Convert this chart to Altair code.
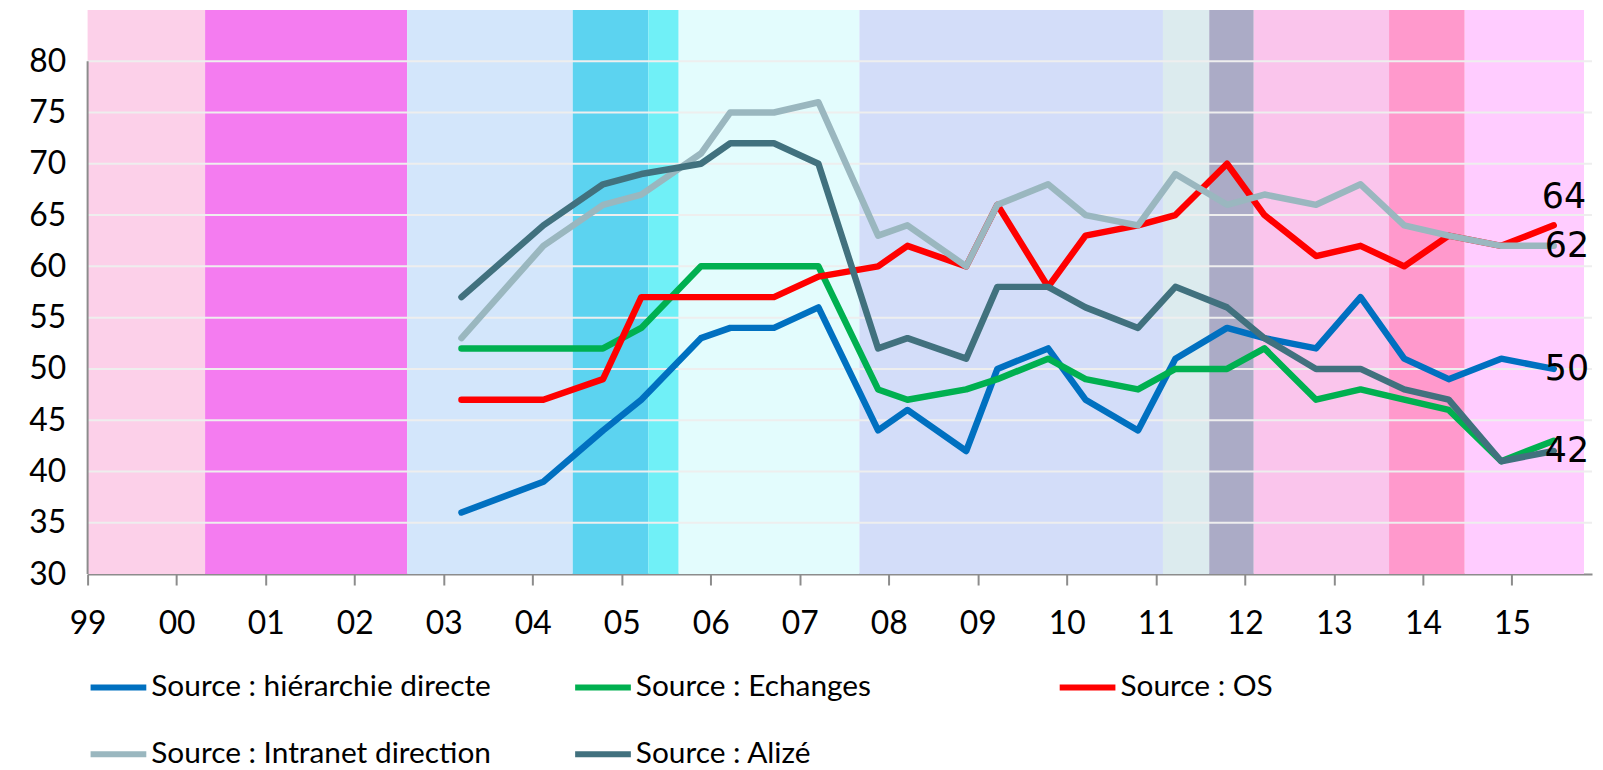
import altair as alt
import pandas as pd

# ---- data ----
SERIES = [
    "Source : hiérarchie directe",
    "Source : Echanges",
    "Source : OS",
    "Source : Intranet direction",
    "Source : Alizé",
]
COLORS = ["#0070C0", "#00B050", "#FF0000", "#9AB7BF", "#41717E"]

SURVEY_DATES = [2003.20, 2004.12, 2004.79, 2005.22, 2005.89, 2006.22, 2006.71,
                2007.21, 2007.88, 2008.21, 2008.87, 2009.22, 2009.79, 2010.21,
                2010.80, 2011.22, 2011.80, 2012.22, 2012.80, 2013.30, 2013.79,
                2014.29, 2014.88, 2015.47]

HIERARCHIE = [36, 39, 44, 47, 53, 54, 54, 56, 44, 46, 42, 50, 52, 47, 44, 51, 54, 53, 52, 57, 51, 49, 51, 50]
ECHANGES   = [52, 52, 52, 54, 60, 60, 60, 60, 48, 47, 48, 49, 51, 49, 48, 50, 50, 52, 47, 48, 47, 46, 41, 43]
OS         = [47, 47, 49, 57, 57, 57, 57, 59, 60, 62, 60, 66, 58, 63, 64, 65, 70, 65, 61, 62, 60, 63, 62, 64]
INTRANET   = [53, 62, 66, 67, 71, 75, 75, 76, 63, 64, 60, 66, 68, 65, 64, 69, 66, 67, 66, 68, 64, 63, 62, 62]
ALIZE      = [57, 64, 68, 69, 70, 72, 72, 70, 52, 53, 51, 58, 58, 56, 54, 58, 56, 53, 50, 50, 48, 47, 41, 42]

TICK_YEARS = list(range(1999, 2016))
TICK_LABELS = ["99", "00", "01", "02", "03", "04", "05", "06", "07", "08",
               "09", "10", "11", "12", "13", "14", "15"]
Y_TICKS = [30, 35, 40, 45, 50, 55, 60, 65, 70, 75, 80]

# background periods
BAND_START = [1999.00, 2000.32, 2002.59, 2004.45, 2005.30, 2005.64, 2007.67,
              2011.08, 2011.60, 2012.10, 2013.62, 2014.47]
BAND_END   = [2000.32, 2002.59, 2004.45, 2005.30, 2005.64, 2007.67, 2011.08,
              2011.60, 2012.10, 2013.62, 2014.47, 2015.81]
BAND_COLOR = ["#FCD0E9", "#F47CF0", "#D3E6FB", "#5CD3F0", "#70F0F7", "#E3FCFD",
              "#D3DDF9", "#DCEBEE", "#ABABC6", "#FAC5EC", "#FF99CC", "#FFCCFF"]

X_DOMAIN = [1999, 2015.9]
Y_DOMAIN = [30, 85]

# ---- tables ----
rows = []
for name, vals in zip(SERIES, [HIERARCHIE, ECHANGES, OS, INTRANET, ALIZE]):
    for d, v in zip(SURVEY_DATES, vals):
        rows.append({"serie": name, "date": d, "valeur": v})
df = pd.DataFrame(rows)

bands = pd.DataFrame({"debut": BAND_START, "fin": BAND_END, "couleur": BAND_COLOR})
grid = pd.DataFrame({"v": Y_TICKS[1:]})
axis_df = pd.DataFrame({"x": [X_DOMAIN[0]], "y1": [Y_TICKS[0]], "y2": [Y_TICKS[-1]]})

xscale = alt.Scale(domain=X_DOMAIN, nice=False, zero=False)
yscale = alt.Scale(domain=Y_DOMAIN, nice=False, zero=False)

label_expr = "[" + ",".join("'%s'" % t for t in TICK_LABELS) + "][datum.value - %d]" % TICK_YEARS[0]

XAXIS = alt.Axis(title=None, values=TICK_YEARS, labelExpr=label_expr,
                 grid=False, tickSize=11, tickWidth=2, tickColor="#8C8C8C",
                 domainColor="#8C8C8C", domainWidth=2,
                 labelFont="Lato", labelFontSize=32, labelColor="black",
                 labelPadding=24, labelFlush=False, labelOverlap=False)
YAXIS = alt.Axis(title=None, values=Y_TICKS, grid=False, ticks=False,
                 domain=False, labelFont="Lato", labelFontSize=32,
                 labelColor="black", labelPadding=22, labelOverlap=False,
                 labelFlush=False)

band_layer = alt.Chart(bands).transform_calculate(
    haut=str(Y_DOMAIN[1]), bas=str(Y_DOMAIN[0])
).mark_rect().encode(
    x=alt.X("debut:Q", scale=xscale, axis=XAXIS),
    x2="fin:Q",
    y=alt.Y("haut:Q", scale=yscale, axis=YAXIS),
    y2="bas:Q",
    fill=alt.Fill("couleur:N", scale=None, legend=None),
)

grid_layer = alt.Chart(grid).mark_rule(color="#EEEEEE", strokeWidth=2).encode(
    y=alt.Y("v:Q", scale=yscale, axis=YAXIS)
)

yaxis_line = alt.Chart(axis_df).mark_rule(color="#8C8C8C", strokeWidth=2).encode(
    x=alt.X("x:Q", scale=xscale, axis=XAXIS),
    y=alt.Y("y1:Q", scale=yscale, axis=YAXIS),
    y2="y2:Q",
)

lines = alt.Chart(df).mark_line(strokeWidth=6.5, strokeCap="round", strokeJoin="round").encode(
    x=alt.X("date:Q", scale=xscale, axis=XAXIS),
    y=alt.Y("valeur:Q", scale=yscale, axis=YAXIS),
    color=alt.Color("serie:N", scale=alt.Scale(domain=SERIES, range=COLORS),
                    legend=alt.Legend(title=None, orient="none", legendX=0, legendY=650,
                                      direction="horizontal", columns=3, gridAlign="all",
                                      columnPadding=72, rowPadding=21,
                                      symbolType="stroke", symbolSize=3136,
                                      symbolStrokeWidth=6, labelFont="Lato",
                                      labelFontSize=30, labelColor="black",
                                      labelOffset=2, labelLimit=0, padding=0)),
)

end_pts = alt.Chart(df).transform_filter(alt.datum.date == SURVEY_DATES[-1])

label_up = end_pts.transform_filter(alt.datum.serie == SERIES[2]).mark_text(
    align="left", baseline="middle", dx=-12, dy=-28, font="DejaVu Sans", fontSize=35,
    color="black").encode(x=alt.X("date:Q", scale=xscale, axis=XAXIS),
                          y=alt.Y("valeur:Q", scale=yscale, axis=YAXIS),
                          text="valeur:Q")

label_mid = end_pts.transform_filter(
    (alt.datum.serie == SERIES[0]) | (alt.datum.serie == SERIES[3]) | (alt.datum.serie == SERIES[4])
).mark_text(align="left", baseline="middle", dx=-9, font="DejaVu Sans", fontSize=35,
            color="black").encode(x=alt.X("date:Q", scale=xscale, axis=XAXIS),
                                  y=alt.Y("valeur:Q", scale=yscale, axis=YAXIS),
                                  text="valeur:Q")

chart = alt.layer(band_layer, grid_layer, yaxis_line, lines, label_up, label_mid).properties(
    width=1512, height=567,
    padding={"left": 80, "top": 0, "right": 3, "bottom": 195},
    autosize="none",
    background="white",
).configure_view(stroke=None)

chart.save("out.html", embed_options={"renderer": "svg", "actions": False})
